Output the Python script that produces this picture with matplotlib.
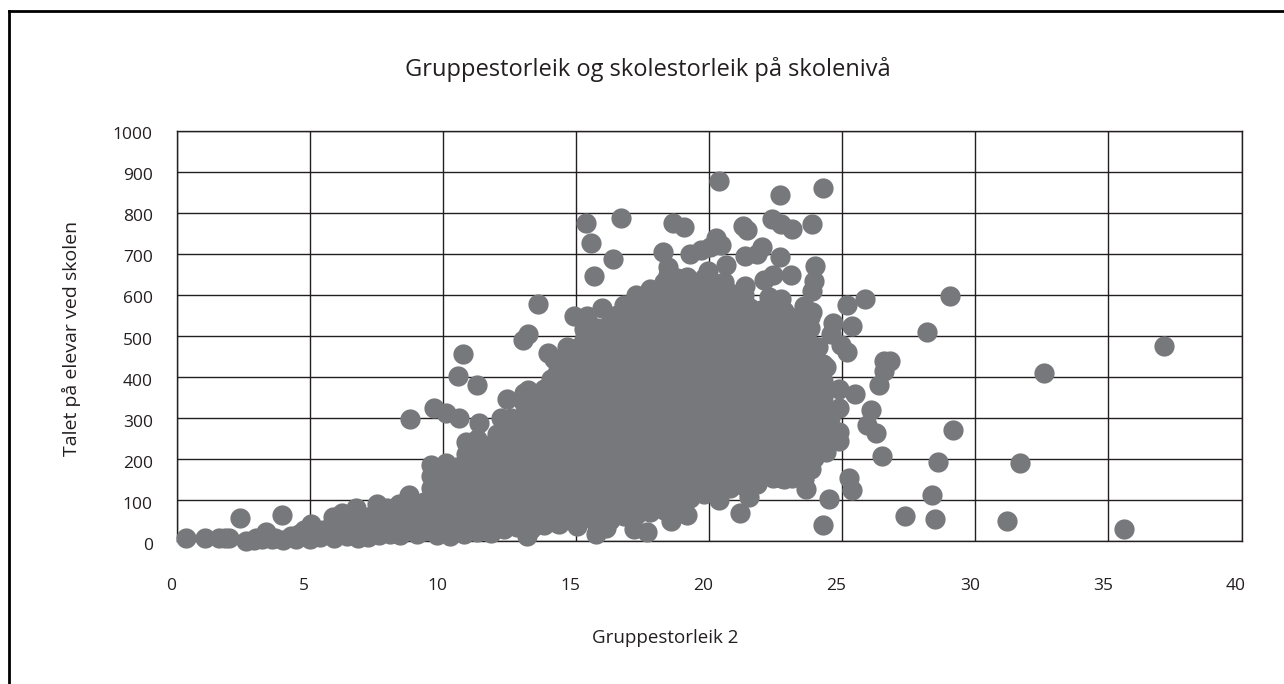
from matplotlib import pyplot as plt
from matplotlib.lines import Line2D
from matplotlib.transforms import ScaledTranslation

plt.rcParams['font.family'] = ['Open Sans', 'DejaVu Sans']

GREY = '#77787b'
INK = '#231f20'

title = "Gruppestorleik og skolestorleik på skolenivå"
x_label = "Gruppestorleik 2"
y_label = "Talet på elevar ved skolen"
x_ticks = [0, 5, 10, 15, 20, 25, 30, 35, 40]
y_ticks = [0, 100, 200, 300, 400, 500, 600, 700, 800, 900, 1000]

# small schools along the bottom, left side
low_points = [(0.37, 7), (1.06, 7), (1.6, 7), (1.83, 7), (1.98, 7), (2.37, 55), (2.6, 1), (2.9, 2), (3.2, 4),
              (3.37, 21), (3.7, 8), (3.95, 64), (4.0, 3), (4.3, 12), (4.6, 16), (4.9, 13), (5.06, 42), (5.1, 20),
              (5.6, 16), (5.86, 58), (6.1, 30), (6.2, 69), (6.4, 12), (6.75, 80), (6.8, 8), (7.0, 40), (7.2, 10),
              (7.52, 90), (7.6, 50), (7.9, 80), (8.0, 16), (8.3, 45), (8.37, 90), (8.75, 111), (8.8, 60), (9.03, 16),
              (9.57, 186), (9.57, 159), (10.14, 191), (10.2, 164), (10.29, 13), (11.29, 21), (13.18, 13), (13.68, 42),
              (14.37, 42), (15.03, 37), (15.75, 16), (16.14, 32), (17.17, 30), (16.68, 69), (12.52, 48), (17.67, 21),
              (3.0, 8), (3.6, 5), (4.5, 6), (5.0, 5), (5.4, 10), (5.9, 8), (6.3, 30), (6.6, 45), (6.9, 30), (7.3, 60),
              (7.7, 35), (8.1, 60), (8.6, 35), (7.6, 15), (8.4, 15), (9.2, 80), (9.0, 40), (6.0, 40), (5.5, 28),
              (4.8, 28)]

# top and left edge of the cloud
upper_points = [(15.38, 774), (15.57, 726), (16.68, 788), (16.38, 687), (15.68, 645), (17.26, 599), (16.91, 560),
                (15.98, 567), (14.94, 549), (15.4, 549), (15.29, 517), (16.26, 509), (13.57, 578), (13.03, 490),
                (13.22, 504), (13.95, 459), (14.18, 443), (14.68, 472), (14.9, 445), (10.77, 455), (10.57, 401),
                (11.28, 380), (12.4, 345), (13.22, 368), (13.06, 360), (14.1, 382), (14.45, 392), (8.78, 297),
                (9.68, 323), (10.11, 313), (10.6, 299), (11.37, 288), (12.17, 299), (12.6, 292), (10.86, 242),
                (10.86, 212), (11.29, 249), (11.6, 212), (11.91, 239), (20.38, 877), (22.67, 842), (24.27, 861),
                (18.64, 774), (19.07, 764), (21.26, 767), (21.41, 758), (22.38, 785), (22.72, 772), (23.1, 760),
                (23.87, 772), (18.29, 705), (19.29, 700), (19.69, 708), (20.27, 737), (20.44, 721), (20.03, 716),
                (20.64, 673), (21.37, 695), (21.8, 700), (22.0, 716), (22.67, 692), (23.98, 671), (23.95, 634),
                (23.87, 610), (23.07, 647), (22.41, 647), (22.06, 636), (18.47, 668), (18.46, 647), (19.18, 642),
                (19.95, 657), (20.57, 631), (21.37, 620), (18.64, 615)]

# right edge and the outliers
right_points = [(25.87, 590), (25.18, 576), (29.07, 597), (28.18, 509), (25.38, 523), (24.67, 532), (24.57, 504),
                (24.95, 477), (25.18, 461), (37.09, 475), (32.58, 410), (26.8, 439), (26.57, 439), (26.57, 413),
                (26.38, 380), (24.87, 371), (25.49, 358), (24.41, 424), (24.1, 472), (23.87, 557), (23.57, 573),
                (22.72, 589), (22.26, 594), (21.95, 562), (22.1, 546), (26.07, 318), (25.92, 283), (26.29, 262),
                (26.49, 207), (29.18, 270), (28.6, 193), (31.69, 189), (28.38, 113), (28.49, 53), (27.38, 62),
                (31.2, 48), (35.6, 29), (24.27, 39), (24.49, 103), (25.26, 154), (25.38, 125), (23.64, 127),
                (23.3, 215), (23.84, 175), (23.95, 201), (24.41, 217), (24.87, 244), (24.87, 265), (24.26, 244),
                (24.87, 323), (24.41, 318), (24.1, 307), (23.64, 334), (23.8, 387), (21.18, 69), (21.49, 106),
                (20.37, 101), (19.18, 64), (18.57, 48), (22.41, 154), (22.72, 154), (23.1, 154), (22.41, 207),
                (22.87, 270), (23.41, 265), (22.1, 270)]

# inside of the cloud, solid grey in the picture so read only roughly
inner_x = [9.3, 9.8, 10.3, 10.8, 11.3, 11.8, 12.3, 12.8, 13.3, 13.8, 14.3, 14.8, 15.3, 15.8, 16.3, 16.8, 17.3, 17.8,
           18.3, 18.8, 19.3, 19.8, 20.3, 20.8, 21.3, 21.8, 22.3, 22.8, 23.3, 23.8, 24.3]
inner_y = [[25, 60, 95],
           [15, 50, 85, 120],
           [20, 55, 90, 125, 150],
           [18, 55, 92, 130, 165],
           [25, 60, 100, 135, 170, 205],
           [20, 58, 95, 130, 170, 205, 235],
           [30, 65, 100, 140, 175, 215, 250, 275],
           [35, 70, 110, 145, 185, 220, 255, 290],
           [30, 68, 105, 140, 180, 215, 255, 290, 325, 345],
           [38, 75, 112, 150, 185, 225, 260, 300, 335, 370],
           [45, 80, 118, 155, 192, 230, 265, 305, 340, 375, 410],
           [50, 88, 125, 160, 198, 235, 272, 310, 345, 385, 420, 450],
           [55, 92, 130, 168, 205, 240, 278, 315, 352, 390, 425, 460, 490],
           [40, 78, 115, 152, 190, 228, 265, 302, 340, 378, 415, 452, 490, 520],
           [50, 88, 125, 162, 200, 238, 275, 312, 350, 388, 425, 462, 500, 530],
           [60, 98, 135, 172, 210, 248, 285, 322, 360, 398, 435, 472, 510, 545, 575],
           [65, 102, 140, 178, 215, 252, 290, 328, 365, 402, 440, 478, 515, 550, 585],
           [70, 108, 145, 182, 220, 258, 295, 332, 370, 408, 445, 482, 520, 558, 595, 615],
           [75, 112, 150, 188, 225, 262, 300, 338, 375, 412, 450, 488, 525, 562, 600, 630],
           [85, 122, 160, 198, 235, 272, 310, 348, 385, 422, 460, 498, 535, 572, 610, 640],
           [105, 142, 180, 218, 255, 292, 330, 368, 405, 442, 480, 518, 555, 592, 625],
           [115, 152, 190, 228, 265, 302, 340, 378, 415, 452, 490, 528, 565, 600, 640],
           [125, 162, 200, 238, 275, 312, 350, 388, 425, 462, 500, 538, 575, 610, 625],
           [130, 168, 205, 242, 280, 318, 355, 392, 430, 468, 505, 542, 580, 605],
           [135, 172, 210, 248, 285, 322, 360, 398, 435, 472, 510, 548, 585, 600],
           [140, 178, 215, 252, 290, 328, 365, 402, 440, 478, 515, 550],
           [165, 205, 235, 295, 330, 368, 405, 442, 480, 518, 540],
           [150, 195, 230, 300, 338, 375, 412, 450, 488, 525, 560],
           [175, 240, 305, 342, 380, 418, 455, 492, 530],
           [230, 280, 320, 360, 400, 440, 480, 520, 545],
           [270, 350, 390, 430]]

# second pass between those columns, the cloud has no holes there
between_x = [9.05, 9.55, 10.05, 10.55, 11.05, 11.55, 12.05, 12.55, 13.05, 13.55, 14.05, 14.55, 15.05, 15.55, 16.05,
             16.55, 17.05, 17.55, 18.05, 18.55, 19.05, 19.55, 20.05, 20.55, 21.05, 21.55, 22.05, 22.55, 23.05, 23.55,
             24.05, 24.55]
between_y = [[20, 55, 85],
             [30, 70, 105, 130],
             [35, 70, 105, 135],
             [35, 75, 110, 145, 180],
             [40, 80, 118, 150, 185],
             [40, 78, 115, 150, 188, 225],
             [40, 80, 118, 155, 190, 225, 260],
             [50, 88, 125, 165, 200, 238, 272, 300],
             [50, 88, 125, 160, 198, 235, 272, 308, 335],
             [55, 92, 130, 168, 205, 242, 280, 318, 352],
             [60, 98, 135, 170, 208, 245, 282, 320, 355, 395],
             [65, 100, 135, 172, 210, 248, 285, 322, 360, 398, 430],
             [70, 108, 148, 185, 222, 258, 295, 332, 370, 405, 440, 470],
             [60, 98, 135, 172, 210, 248, 285, 322, 360, 398, 435, 470, 505],
             [68, 105, 142, 180, 218, 255, 292, 330, 368, 405, 442, 480, 512],
             [78, 115, 152, 190, 228, 265, 302, 340, 378, 415, 452, 490, 525, 550],
             [85, 122, 160, 198, 235, 272, 310, 348, 385, 422, 460, 498, 535, 565],
             [88, 125, 162, 200, 238, 275, 312, 350, 388, 425, 462, 500, 538, 575],
             [92, 130, 168, 205, 242, 280, 318, 355, 392, 430, 468, 505, 542, 580, 610],
             [100, 135, 172, 210, 248, 285, 322, 360, 398, 435, 472, 510, 548, 585, 620],
             [112, 150, 188, 225, 262, 300, 338, 375, 412, 450, 488, 525, 562, 600, 632],
             [130, 165, 202, 240, 278, 315, 352, 390, 428, 465, 502, 540, 578, 612],
             [140, 175, 212, 250, 288, 325, 362, 400, 438, 475, 512, 550, 590, 622],
             [148, 185, 222, 260, 298, 335, 372, 410, 448, 485, 522, 560, 598],
             [152, 190, 228, 265, 302, 340, 378, 415, 452, 490, 528, 565, 600],
             [158, 195, 232, 270, 345, 382, 420, 458, 495, 532, 568],
             [160, 200, 240, 310, 348, 385, 422, 460, 498, 535],
             [170, 210, 255, 315, 352, 390, 428, 465, 502, 540, 575],
             [170, 225, 280, 320, 358, 395, 432, 470, 508, 545],
             [150, 195, 255, 300, 340, 380, 420, 460, 500, 540],
             [220, 260, 345, 385, 425],
             [240, 270, 300]]

xs = [p[0] for p in low_points + upper_points + right_points]
ys = [p[1] for p in low_points + upper_points + right_points]
for col, vals in zip(inner_x + between_x, inner_y + between_y):
    for v in vals:
        xs.append(col)
        ys.append(v)

W, H = 1284, 684
fig = plt.figure(figsize=(W / 100, H / 100), dpi=100)
ax = fig.add_axes([176.5 / W, 1 - 541 / H, 1065 / W, 410.5 / H])

ax.scatter(xs, ys, s=212, color=GREY, linewidths=0, zorder=3, clip_on=False)

ax.set_xlim(0, 40)
ax.set_ylim(0, 1000)
ax.set_xticks(x_ticks)
ax.set_yticks(y_ticks)
ax.grid(True, color=INK, linewidth=1.0, zorder=1)
ax.set_axisbelow(True)
ax.tick_params(length=0, labelsize=12.5, labelcolor=INK)
ax.tick_params(axis='x', pad=27)
ax.tick_params(axis='y', pad=17)
for s in ax.spines.values():
    s.set_color(INK)
    s.set_linewidth(1.0)

# the labels sit a little off their grid lines in the original
shift_x = ScaledTranslation(-4 / 72, 0, fig.dpi_scale_trans)
shift_y = ScaledTranslation(0, -2 / 72, fig.dpi_scale_trans)
for lab in ax.get_xticklabels():
    lab.set_transform(lab.get_transform() + shift_x)
for lab in ax.get_yticklabels():
    lab.set_transform(lab.get_transform() + shift_y)

fig.text(648 / W, 1 - 70 / H, title, fontsize=17, color=INK, ha='center', va='center')
fig.text(665 / W, 1 - 638 / H, x_label, fontsize=13.5, color=INK, ha='center', va='center')
fig.text(71 / W, 1 - 338 / H, y_label, fontsize=14, color=INK, ha='center', va='center', rotation=90)

# frame around the whole figure, only top and left show
fig.add_artist(Line2D([9 / W, 9 / W], [0, 1 - 11 / H], color='black', linewidth=2))
fig.add_artist(Line2D([9 / W, 1], [1 - 11 / H, 1 - 11 / H], color='black', linewidth=2))

fig.savefig('out.png', dpi=100)
